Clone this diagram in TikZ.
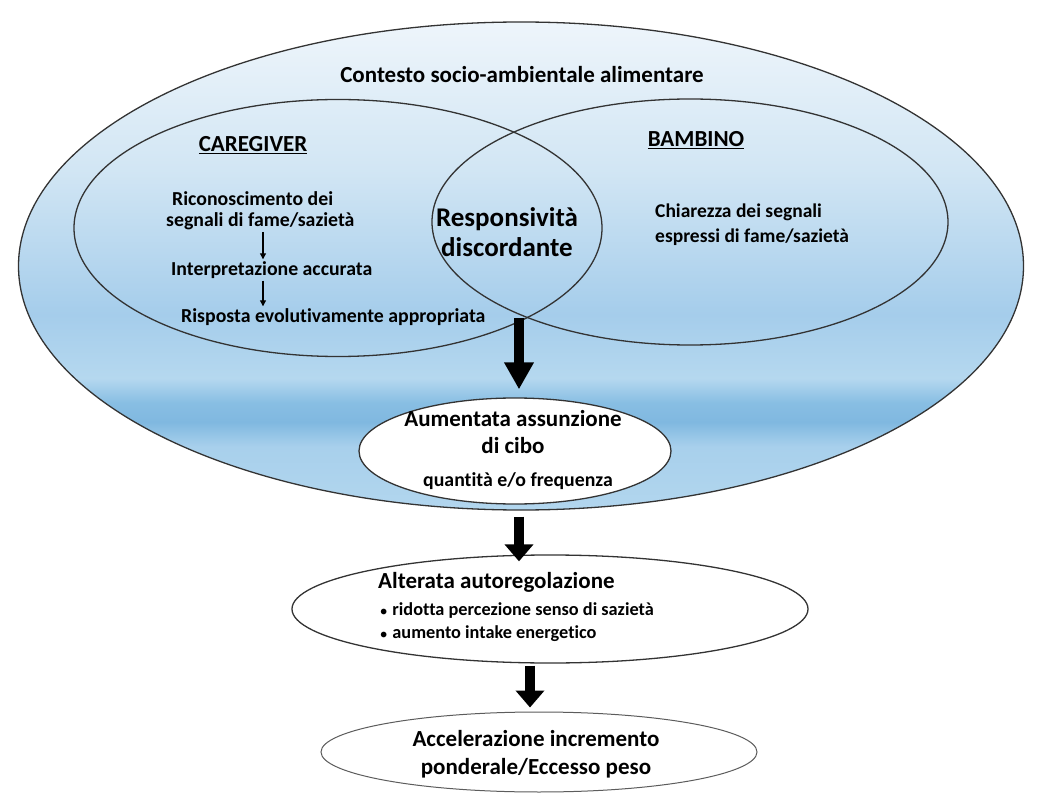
\documentclass[tikz,border=0pt]{standalone}
\usepackage{fontspec}
\setmainfont{Carlito}[BoldFont={Carlito Bold},Ligatures=NoCommon]
\usetikzlibrary{shapes.geometric,arrows.meta}
\definecolor{gA}{HTML}{EEF5FB}
\definecolor{gB}{HTML}{D2E6F4}
\definecolor{gC}{HTML}{A5CDEB}
\definecolor{gD}{HTML}{B5D8EF}
\definecolor{gE}{HTML}{88BEE3}
\definecolor{gF}{HTML}{80B8E0}
\definecolor{gG}{HTML}{A8D0EC}
\definecolor{gH}{HTML}{B2D6EE}
\definecolor{edge}{HTML}{333333}
\pgfdeclareverticalshading{bigsh}{100bp}{color(0bp)=(gH); color(25bp)=(gH); color(31.5bp)=(gG); color(34bp)=(gF); color(36bp)=(gE); color(38.5bp)=(gD); color(45bp)=(gC); color(60bp)=(gB); color(75bp)=(gA); color(100bp)=(gA)}
\tikzset{
  oval/.style={ellipse, draw=edge, line width=1.3pt, inner sep=0pt},
  txt/.style 2 args={font=\bfseries\fontsize{#1}{#2}\selectfont, text=black, inner sep=0pt},
  bigarrow/.style={line width=9.5pt, -{Triangle[width=28pt,length=#1]}},
  bigarrow/.default=17pt,
  smallarrow/.style={line width=1.2pt, -{Triangle[width=6pt,length=6pt]}}
}
\begin{document}
\begin{tikzpicture}[x=1pt,y=1pt]
\useasboundingbox (0,-805) rectangle (1037,0);
% big context ellipse
\node[oval, shading=bigsh, minimum width=1005pt, minimum height=488pt] (ctx) at (521,-266) {};
\node[oval, minimum width=528pt, minimum height=257pt] (care) at (338,-228) {};
\node[oval, minimum width=516pt, minimum height=246pt] (bamb) at (690,-222) {};
\node[txt={23}{27}] (ctxl) at (522,-75) {Contesto socio-ambientale alimentare};
\node[txt={23}{27}] (carel) at (253,-145) {\underline{CAREGIVER}};
\node[txt={23}{27}] (bambl) at (696,-140) {\underline{BAMBINO}};
\node[txt={19.8}{24}, anchor=west] (ric) at (172,-199) {Riconoscimento dei};
\node[txt={19.8}{24}, anchor=west] (seg) at (166,-221) {segnali di fame/sazietà};
\node[txt={19.8}{24}, anchor=west] (int) at (171,-270) {Interpretazione accurata};
\node[txt={19.8}{24}, anchor=west] (ris) at (181,-317) {Risposta evolutivamente appropriata};
\coordinate (ax) at (263,0);
\draw[smallarrow] ([yshift=-2pt]seg.south -| ax) -- ([yshift=2pt]int.north -| ax);
\draw[smallarrow] ([yshift=-2pt]int.south -| ax) -- ([yshift=2pt]ris.north -| ax);
\node[txt={27}{30}, align=center] (resp) at (507,-232) {Responsività\\discordante};
\node[txt={19.5}{25}, anchor=west, align=left] (chi) at (655,-225) {Chiarezza dei segnali\\espressi di fame/sazietà};
% lower chain
\node[oval, fill=white, minimum width=312pt, minimum height=106pt] (aum) at (515,-451) {};
\node[txt={23}{27}, align=center] (auml) at (513,-432) {Aumentata assunzione\\di cibo};
\node[txt={19.8}{23}] (quan) at (518,-481) {quantità e/o frequenza};
\node[oval, fill=white, minimum width=516pt, minimum height=108pt] (alt) at (550,-609) {};
\node[txt={23}{27}, anchor=west] (altl) at (378,-582) {Alterata autoregolazione};
\node[txt={18.3}{22}, anchor=west] (b1) at (380,-611) {{\fontsize{12}{12}\selectfont●}\hspace{5pt}ridotta percezione senso di sazietà};
\node[txt={18.3}{22}, anchor=west] (b2) at (380,-634) {{\fontsize{12}{12}\selectfont●}\hspace{5pt}aumento intake energetico};
\node[oval, draw=edge!80, line width=1pt, fill=white, minimum width=436pt, minimum height=80pt] (acc) at (539,-752) {};
\node[txt={23}{28}, align=center] (accl) at (536,-754) {Accelerazione incremento\\ponderale/Eccesso peso};
% arrows
\coordinate (x1) at (519,-318);
\draw[bigarrow=27pt] (x1) -- ([yshift=8pt]x1 |- aum.north);
\draw[bigarrow] ([xshift=4pt,yshift=-12pt]aum.south) -- ([xshift=4pt,yshift=-7pt]aum.south |- alt.north);
\draw[bigarrow] ([xshift=-9pt,yshift=-2pt]acc.north |- alt.south) -- ([xshift=-9pt,yshift=4pt]acc.north);
\end{tikzpicture}
\end{document}
